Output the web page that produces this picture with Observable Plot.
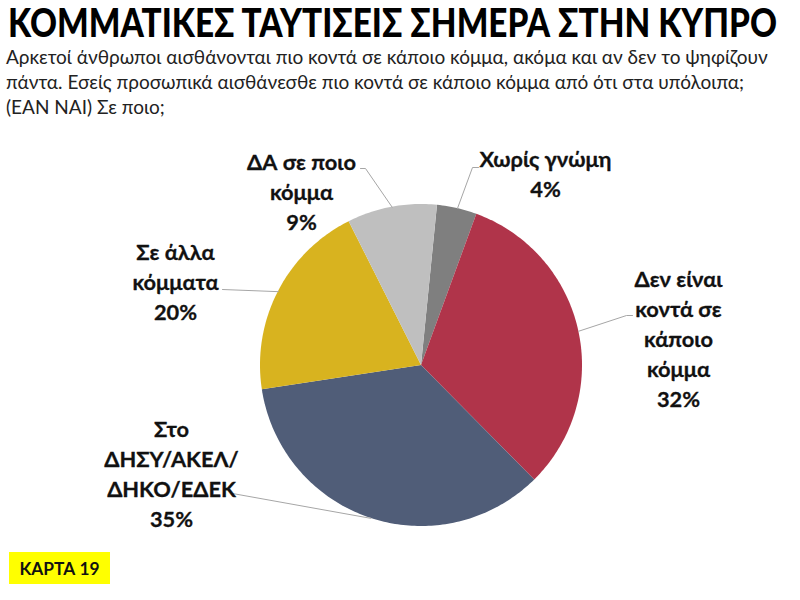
<!DOCTYPE html>
<html lang="el">
<head>
<meta charset="utf-8">
<script src="https://cdn.jsdelivr.net/npm/d3@7"></script>
<script src="https://cdn.jsdelivr.net/npm/@observablehq/plot@0.6"></script>
<style>
html,body{margin:0;padding:0;background:#fff;width:800px;height:600px;overflow:hidden}
#head{height:130px;position:relative;font-family:Lato,"Open Sans",sans-serif;color:#000}
#title{position:absolute;left:8px;top:-1px;font-size:39px;font-weight:900;line-height:46px;white-space:nowrap;margin:0;transform-origin:0 0}
#sub{position:absolute;left:6px;top:44px;font-size:19px;line-height:25px;color:#222;white-space:nowrap}
#chart svg{display:block}
#badge{position:absolute;left:9px;top:552px;width:101px;height:32px;background:#ffff00;font:700 17.3px/33px Lato,"Open Sans",sans-serif;text-align:center;color:#111}
</style>
</head>
<body>
<div id="head">
<h1 id="title">ΚΟΜΜΑΤΙΚΕΣ ΤΑΥΤΙΣΕΙΣ ΣΗΜΕΡΑ ΣΤΗΝ ΚΥΠΡΟ</h1>
<div id="sub">Αρκετοί άνθρωποι αισθάνονται πιο κοντά σε κάποιο κόμμα, ακόμα και αν δεν το ψηφίζουν<br>πάντα. Εσείς προσωπικά αισθάνεσθε πιο κοντά σε κάποιο κόμμα από ότι στα υπόλοιπα;<br>(ΕΑΝ ΝΑΙ) Σε ποιο;</div>
</div>
<div id="chart"></div>
<div id="badge">ΚΑΡΤΑ 19</div>
<script>
const categories = ["Χωρίς γνώμη", "Δεν είναι κοντά σε κάποιο κόμμα", "Στο ΔΗΣΥ/ΑΚΕΛ/ΔΗΚΟ/ΕΔΕΚ", "Σε άλλα κόμματα", "ΔΑ σε ποιο κόμμα"];
const values = [4, 32, 35, 20, 9];
const colors = ["#7f7f7f", "#b0344a", "#505d78", "#d8b31f", "#bfbfbf"];
const labelLines = ["Χωρίς γνώμη", "Δεν είναι\nκοντά σε\nκάποιο\nκόμμα", "Στο\nΔΗΣΥ/ΑΚΕΛ/\nΔΗΚΟ/ΕΔΕΚ", "Σε άλλα\nκόμματα", "ΔΑ σε ποιο\nκόμμα"];

// layout (pixels from the pie centre)
const radius = 161, startAngle = 5.7;
const labelAt = [[124, -193], [257, -28], [-250, 106.5], [-246, -85], [-120, -175]];
const leaderEnd = [[[57, -198], [51, -198]], [[211, -50], [205, -50]], [[-189, 128]], [[-199, -76]], [[-61, -197], [-56, -197]]];

// fit the condensed headline to the width it has in the reference
const titleEl = document.getElementById("title");
titleEl.style.transform = `scaleX(${769 / titleEl.getBoundingClientRect().width})`;

const total = d3.sum(values);
let acc = startAngle;
const slices = categories.map((c, i) => {
  const a0 = acc, a1 = acc + values[i] / total * 360;
  acc = a1;
  return {c, i, a0, a1, mid: (a0 + a1) / 2};
});
const polar = (deg, r) => [r * Math.sin(deg * Math.PI / 180), -r * Math.cos(deg * Math.PI / 180)];

const arcRows = slices.flatMap(s => {
  const n = Math.ceil(s.a1 - s.a0);
  return d3.range(n + 1).map(k => {
    const [x, y] = polar(s.a0 + (s.a1 - s.a0) * k / n, radius);
    return {c: s.c, x, y};
  });
});
const leaderRows = slices.flatMap(s => {
  const pts = [...leaderEnd[s.i], polar(s.mid, radius)];
  return pts.map(([x, y]) => ({c: s.c, x, y}));
});
const labelRows = slices.map(s => ({
  x: labelAt[s.i][0],
  y: labelAt[s.i][1],
  text: labelLines[s.i] + "\n" + values[s.i] + "%"
}));

const plot = Plot.plot({
  width: 800, height: 410, margin: 0,
  x: {domain: [-421, 379], range: [0, 800], axis: null},
  y: {domain: [-235, 175], range: [0, 410], axis: null},
  color: {domain: categories, range: colors},
  marks: [
    Plot.area(arcRows, {x1: 0, y1: 0, x2: "x", y2: "y", z: "c", fill: "c"}),
    Plot.line(leaderRows, {x: "x", y: "y", z: "c", stroke: "#a6a6a6", strokeWidth: 1}),
    Plot.text(labelRows, {x: "x", y: "y", text: "text", fontSize: 21.8, fontWeight: 700, lineHeight: 1.376,
      fontFamily: 'Lato,"Open Sans",sans-serif', fill: "#111", stroke: "#111", strokeWidth: 0.3, textAnchor: "middle", lineAnchor: "middle"})
  ]
});
document.getElementById("chart").append(plot);
</script>
</body>
</html>
